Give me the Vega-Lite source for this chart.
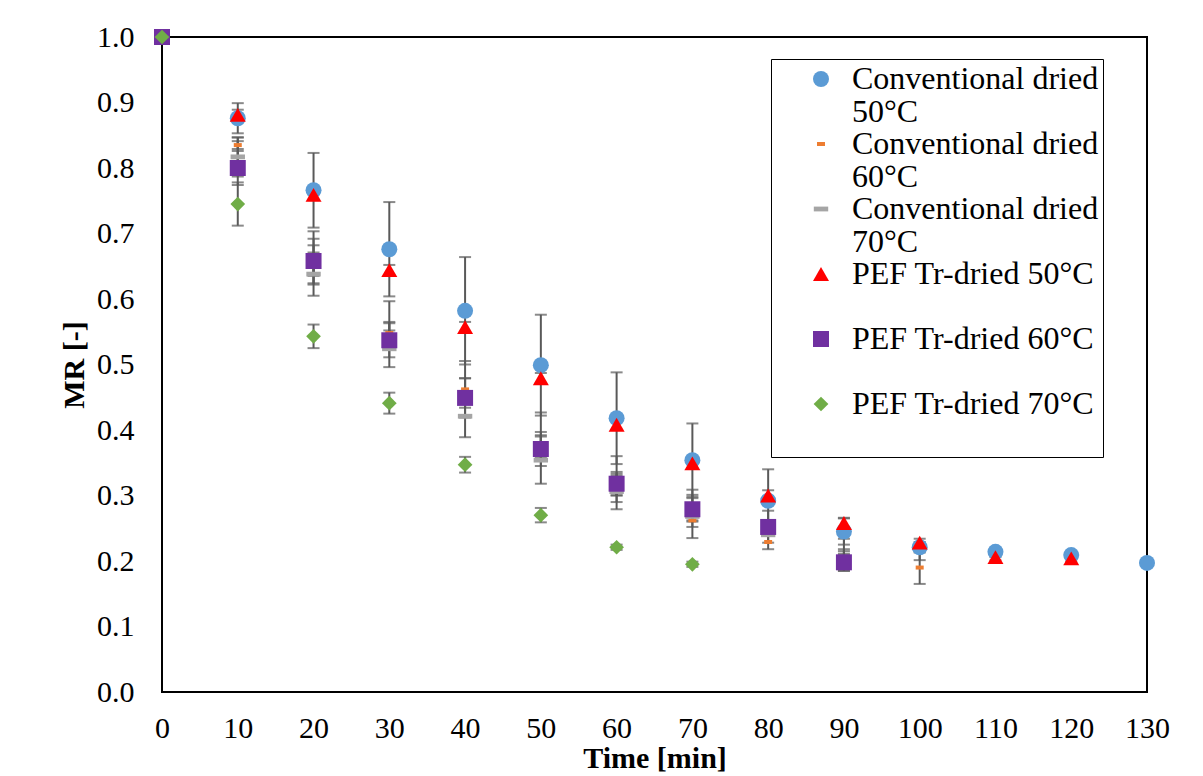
{
  "$schema": "https://vega.github.io/schema/vega-lite/v6.json",
  "width": 985,
  "height": 655,
  "autosize": {"type": "none"},
  "padding": {"left": 162, "top": 37, "right": 56, "bottom": 84},
  "background": "white",
  "config": {
    "view": {"stroke": "#000000", "strokeWidth": 2},
    "font": "Liberation Serif",
    "style": {"guide-label": {"dy": -15, "lineHeight": 33}},
    "axis": {
      "grid": false, "domain": false, "ticks": false, "tickSize": 0,
      "labelFont": "Liberation Serif", "labelFontSize": 30, "labelColor": "#000000",
      "titleFont": "Liberation Serif", "titleFontSize": 30, "titleFontWeight": "bold", "titleColor": "#000000"
    }
  },
  "data": {"values": [
    {"s": "Conventional dried 50°C", "t": 0, "mr": 1.0, "err": 0},
    {"s": "Conventional dried 50°C", "t": 10, "mr": 0.876, "err": 0.023},
    {"s": "Conventional dried 50°C", "t": 20, "mr": 0.766, "err": 0.057},
    {"s": "Conventional dried 50°C", "t": 30, "mr": 0.676, "err": 0.072},
    {"s": "Conventional dried 50°C", "t": 40, "mr": 0.582, "err": 0.082},
    {"s": "Conventional dried 50°C", "t": 50, "mr": 0.499, "err": 0.077},
    {"s": "Conventional dried 50°C", "t": 60, "mr": 0.418, "err": 0.07},
    {"s": "Conventional dried 50°C", "t": 70, "mr": 0.354, "err": 0.056},
    {"s": "Conventional dried 50°C", "t": 80, "mr": 0.292, "err": 0.048},
    {"s": "Conventional dried 50°C", "t": 90, "mr": 0.245, "err": 0.02},
    {"s": "Conventional dried 50°C", "t": 100, "mr": 0.221, "err": 0.008},
    {"s": "Conventional dried 50°C", "t": 110, "mr": 0.214, "err": 0.005},
    {"s": "Conventional dried 50°C", "t": 120, "mr": 0.209, "err": 0.005},
    {"s": "Conventional dried 50°C", "t": 130, "mr": 0.197, "err": 0.005},
    {"s": "Conventional dried 60°C", "t": 0, "mr": 1.0, "err": 0},
    {"s": "Conventional dried 60°C", "t": 10, "mr": 0.835, "err": 0.006},
    {"s": "Conventional dried 60°C", "t": 20, "mr": 0.652, "err": 0.03},
    {"s": "Conventional dried 60°C", "t": 30, "mr": 0.548, "err": 0.017},
    {"s": "Conventional dried 60°C", "t": 40, "mr": 0.462, "err": 0.017},
    {"s": "Conventional dried 60°C", "t": 50, "mr": 0.38, "err": 0.012},
    {"s": "Conventional dried 60°C", "t": 60, "mr": 0.31, "err": 0.02},
    {"s": "Conventional dried 60°C", "t": 70, "mr": 0.262, "err": 0.01},
    {"s": "Conventional dried 60°C", "t": 80, "mr": 0.229, "err": 0.011},
    {"s": "Conventional dried 60°C", "t": 90, "mr": 0.206, "err": 0.012},
    {"s": "Conventional dried 60°C", "t": 100, "mr": 0.19, "err": 0.025},
    {"s": "Conventional dried 70°C", "t": 0, "mr": 1.0, "err": 0},
    {"s": "Conventional dried 70°C", "t": 10, "mr": 0.817, "err": 0.03},
    {"s": "Conventional dried 70°C", "t": 20, "mr": 0.638, "err": 0.033},
    {"s": "Conventional dried 70°C", "t": 30, "mr": 0.524, "err": 0.028},
    {"s": "Conventional dried 70°C", "t": 40, "mr": 0.421, "err": 0.032},
    {"s": "Conventional dried 70°C", "t": 50, "mr": 0.354, "err": 0.036},
    {"s": "Conventional dried 70°C", "t": 60, "mr": 0.306, "err": 0.027},
    {"s": "Conventional dried 70°C", "t": 70, "mr": 0.268, "err": 0.033},
    {"s": "Conventional dried 70°C", "t": 80, "mr": 0.24, "err": 0.012},
    {"s": "Conventional dried 70°C", "t": 90, "mr": 0.2, "err": 0.015},
    {"s": "PEF Tr-dried 50°C", "t": 0, "mr": 1.0, "err": 0},
    {"s": "PEF Tr-dried 50°C", "t": 10, "mr": 0.881, "err": 0.008},
    {"s": "PEF Tr-dried 50°C", "t": 20, "mr": 0.759, "err": 0.008},
    {"s": "PEF Tr-dried 50°C", "t": 30, "mr": 0.644, "err": 0.008},
    {"s": "PEF Tr-dried 50°C", "t": 40, "mr": 0.557, "err": 0.008},
    {"s": "PEF Tr-dried 50°C", "t": 50, "mr": 0.479, "err": 0.008},
    {"s": "PEF Tr-dried 50°C", "t": 60, "mr": 0.408, "err": 0.008},
    {"s": "PEF Tr-dried 50°C", "t": 70, "mr": 0.349, "err": 0.008},
    {"s": "PEF Tr-dried 50°C", "t": 80, "mr": 0.3, "err": 0.008},
    {"s": "PEF Tr-dried 50°C", "t": 90, "mr": 0.258, "err": 0.008},
    {"s": "PEF Tr-dried 50°C", "t": 100, "mr": 0.228, "err": 0.006},
    {"s": "PEF Tr-dried 50°C", "t": 110, "mr": 0.206, "err": 0.005},
    {"s": "PEF Tr-dried 50°C", "t": 120, "mr": 0.204, "err": 0.005},
    {"s": "PEF Tr-dried 60°C", "t": 0, "mr": 1.0, "err": 0},
    {"s": "PEF Tr-dried 60°C", "t": 10, "mr": 0.8, "err": 0.026},
    {"s": "PEF Tr-dried 60°C", "t": 20, "mr": 0.658, "err": 0.034},
    {"s": "PEF Tr-dried 60°C", "t": 30, "mr": 0.537, "err": 0.026},
    {"s": "PEF Tr-dried 60°C", "t": 40, "mr": 0.449, "err": 0.03},
    {"s": "PEF Tr-dried 60°C", "t": 50, "mr": 0.371, "err": 0.026},
    {"s": "PEF Tr-dried 60°C", "t": 60, "mr": 0.318, "err": 0.018},
    {"s": "PEF Tr-dried 60°C", "t": 70, "mr": 0.279, "err": 0.017},
    {"s": "PEF Tr-dried 60°C", "t": 80, "mr": 0.252, "err": 0.01},
    {"s": "PEF Tr-dried 60°C", "t": 90, "mr": 0.198, "err": 0.013},
    {"s": "PEF Tr-dried 70°C", "t": 0, "mr": 1.0, "err": 0},
    {"s": "PEF Tr-dried 70°C", "t": 10, "mr": 0.745, "err": 0.033},
    {"s": "PEF Tr-dried 70°C", "t": 20, "mr": 0.543, "err": 0.018},
    {"s": "PEF Tr-dried 70°C", "t": 30, "mr": 0.441, "err": 0.016},
    {"s": "PEF Tr-dried 70°C", "t": 40, "mr": 0.347, "err": 0.012},
    {"s": "PEF Tr-dried 70°C", "t": 50, "mr": 0.27, "err": 0.011},
    {"s": "PEF Tr-dried 70°C", "t": 60, "mr": 0.221, "err": 0.004},
    {"s": "PEF Tr-dried 70°C", "t": 70, "mr": 0.195, "err": 0.004}
  ]},
  "encoding": {
    "x": {
      "field": "t", "type": "quantitative", "title": "Time [min]",
      "scale": {"domain": [0, 130], "nice": false, "zero": false},
      "axis": {"values": [0,10,20,30,40,50,60,70,80,90,100,110,120,130], "labelPadding": 36, "titlePadding": 0, "labelFlush": false, "labelOverlap": false}
    },
    "y": {
      "field": "mr", "type": "quantitative", "title": "MR [-]",
      "scale": {"domain": [0, 1], "nice": false},
      "axis": {"values": [0,0.1,0.2,0.3,0.4,0.5,0.6,0.7,0.8,0.9,1.0], "format": ".1f", "labelPadding": 28, "labelOffset": 15, "titlePadding": 7, "labelFlush": false, "labelOverlap": false}
    }
  },
  "layer": [
    {
      "mark": {"type": "errorbar", "color": "#595959",
               "ticks": {"size": 12, "color": "#595959", "thickness": 2}, "rule": {"color": "#595959", "strokeWidth": 2}},
      "encoding": {"yError": {"field": "err"}}
    },
    {
      "mark": {"type": "errorbar", "color": "#595959",
               "ticks": {"size": 12, "color": "#595959", "thickness": 2}, "rule": {"color": "#595959", "strokeWidth": 2}},
      "encoding": {"xError": {"value": 0.9}}
    },
    {
      "mark": {"type": "point", "filled": true, "size": 256, "opacity": 1, "strokeWidth": 0},
      "encoding": {
        "color": {
          "field": "s", "type": "nominal",
          "scale": {
            "domain": ["Conventional dried 50°C", "Conventional dried 60°C", "Conventional dried 70°C", "PEF Tr-dried 50°C", "PEF Tr-dried 60°C", "PEF Tr-dried 70°C"],
            "range": ["#5B9BD5", "#ED7D31", "#A5A5A5", "#FF0000", "#7030A0", "#70AD47"]
          },
          "legend": {
            "orient": "none", "legendX": 609, "legendY": 22, "title": null,
            "labelFont": "Liberation Serif", "labelFontSize": 32, "labelColor": "#000000", "labelLimit": 600,
            "strokeColor": "#000000", "fillColor": "white", "padding": 4,
            "symbolOffset": 30, "labelOffset": 15, "rowPadding": 0, "symbolSize": 256, "symbolStrokeWidth": 0,
            "labelBaseline": "top",
            "labelExpr": "indexof(datum.label, 'Conventional') === 0 ? ['Conventional dried', replace(datum.label, 'Conventional dried ', '')] : [datum.label, '']"
          }
        },
        "shape": {
          "field": "s", "type": "nominal",
          "scale": {
            "domain": ["Conventional dried 50°C", "Conventional dried 60°C", "Conventional dried 70°C", "PEF Tr-dried 50°C", "PEF Tr-dried 60°C", "PEF Tr-dried 70°C"],
            "range": ["circle", "M-0.5,-0.25H0.5V0.25H-0.5Z", "M-0.9,-0.3H0.9V0.3H-0.9Z", "triangle-up", "square", "M-0.92,0L0,-0.92L0.92,0L0,0.92Z"]
          }
        }
      }
    }
  ]
}
